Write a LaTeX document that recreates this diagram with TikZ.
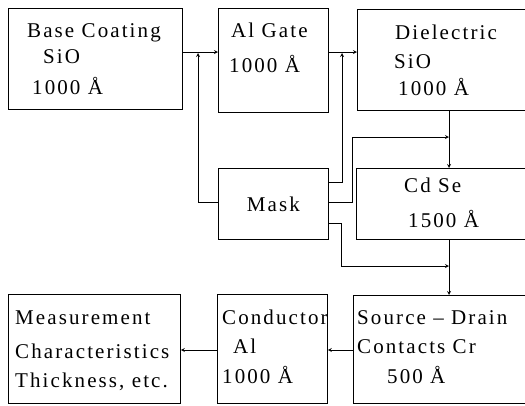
\documentclass[tikz,border=0pt]{standalone}
\usepackage{fontspec}
\setmainfont[LetterSpace=10]{Liberation Serif}
\usepackage{tikz}
\usetikzlibrary{calc, arrows}
\tikzstyle{arrow}    = [line width=0.8pt,->,>=stealth]

\begin{document}
\begin{tikzpicture}[
    x=1pt, y=-1pt,
    stage/.style={draw, line width=0.8pt, anchor=north west, inner sep=0pt},
    lbl/.style={anchor=base west, inner sep=0pt, font=\fontsize{21}{25}\selectfont},
  ]
  \useasboundingbox (0,0) rectangle (525,405);
  \clip (0,0) rectangle (525,405);

  % process steps
  \node[stage, minimum width=174pt, minimum height=101pt] (base) at (8,8) {};
  \node[stage, minimum width=110pt, minimum height=104pt] (gate) at (218,8) {};
  \node[stage, minimum width=175pt, minimum height=101pt] (diel) at (357,9) {};
  \node[stage, minimum width=110pt, minimum height=71pt,
        font=\fontsize{21}{25}\selectfont] (mask) at (218,168) {Mask};
  \node[stage, minimum width=175pt, minimum height=71pt] (cdse) at (356,168) {};
  \node[stage, minimum width=172pt, minimum height=109pt] (meas) at (8,294) {};
  \node[stage, minimum width=110pt, minimum height=109pt] (cond) at (217,294) {};
  \node[stage, minimum width=178pt, minimum height=108pt] (srcd) at (353,295) {};

  % texts
  \foreach \dx/\dy/\t [count=\i] in {19/29/Base Coating, 35/55/SiO, 24/86/1000 Å}
    \node[lbl] (base-\i) at ($(base.north west)+(\dx,\dy)$) {\t};
  \foreach \dx/\dy/\t [count=\i] in {13/29/Al Gate, 11/64/1000 Å}
    \node[lbl] (gate-\i) at ($(gate.north west)+(\dx,\dy)$) {\t};
  \foreach \dx/\dy/\t [count=\i] in {38/30/Dielectric, 37/59/SiO, 41/86/1000 Å}
    \node[lbl] (diel-\i) at ($(diel.north west)+(\dx,\dy)$) {\t};
  \foreach \dx/\dy/\t [count=\i] in {48/24/Cd Se, 52/59/1500 Å}
    \node[lbl] (cdse-\i) at ($(cdse.north west)+(\dx,\dy)$) {\t};
  \foreach \dx/\dy/\t [count=\i] in {7/30/Measurement, 7/64/Characteristics, {7/93/Thickness, etc.}}
    \node[lbl] (meas-\i) at ($(meas.north west)+(\dx,\dy)$) {\t};
  \foreach \dx/\dy/\t [count=\i] in {5/30/Conductor, 16/59/Al, 5/89/1000 Å}
    \node[lbl] (cond-\i) at ($(cond.north west)+(\dx,\dy)$) {\t};
  \foreach \dx/\dy/\t [count=\i] in {4/29/Source – Drain, 4/58/Contacts Cr, 34/88/500 Å}
    \node[lbl] (srcd-\i) at ($(srcd.north west)+(\dx,\dy)$) {\t};

  % junctions
  \coordinate (j1) at (198,52);
  \coordinate (j2) at (342,52);
  \coordinate (j3) at (449,137);
  \coordinate (j4) at (449,266);
  \coordinate (j5) at (0,350);
  \coordinate (mo1) at ($(mask.north east)!0.2!(mask.south east)$);
  \coordinate (mo2) at ($(mask.north east)!0.48!(mask.south east)$);
  \coordinate (mo3) at ($(mask.north east)!0.77!(mask.south east)$);

  % flow
  \draw[arrow] (base.east |- j1) -- (gate.west |- j1);
  \draw[arrow] (gate.east |- j2) -- (diel.west |- j2);
  \draw[arrow, shorten >=1pt] (mask.west |- mo2) -| (j1);
  \draw[arrow, shorten >=1pt] (mo1) -| (j2);
  \draw[arrow] (mo2) -- ++(24,0) |- (j3);
  \draw[arrow] (diel.south -| j3) -- (cdse.north -| j3);
  \draw[arrow] (mo3) -- ++(13,0) |- (j4);
  \draw[arrow] (cdse.south -| j4) -- (srcd.north -| j4);
  \draw[arrow] (srcd.west |- j5) -- (cond.east |- j5);
  \draw[arrow] (cond.west |- j5) -- (meas.east |- j5);
\end{tikzpicture}
\end{document}
